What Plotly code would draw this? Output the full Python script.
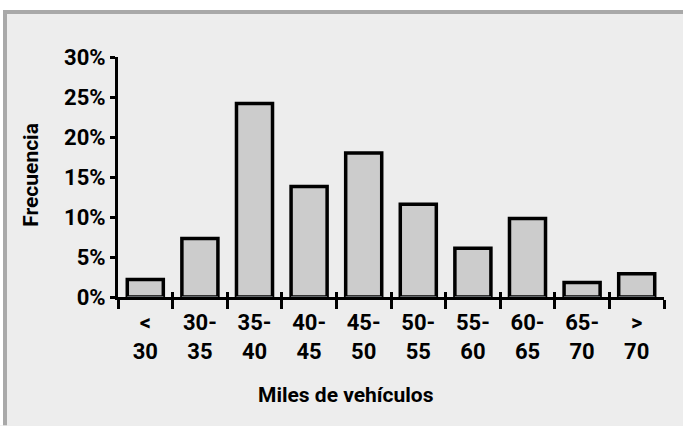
import plotly.graph_objects as go

categories = ["<<br>30", "30-<br>35", "35-<br>40", "40-<br>45", "45-<br>50",
              "50-<br>55", "55-<br>60", "60-<br>65", "65-<br>70", "><br>70"]
frecuencia = [2.2, 7.3, 24.2, 13.8, 18.0, 11.6, 6.1, 9.8, 1.8, 2.9]
y_ticks = [0, 5, 10, 15, 20, 25, 30]
y_tick_labels = ["0%", "5%", "10%", "15%", "20%", "25%", "30%"]

FONT = "Roboto, Liberation Sans, sans-serif"
W, H = 683, 426
L, R, T, B = 118, 19, 57, 128.5
pw = W - L - R
ph = H - T - B

def px_x(px):
    return (px - L) / pw

def px_y(py):
    return (H - B - py) / ph

fig = go.Figure()
fig.add_trace(go.Bar(
    x=categories, y=frecuencia, width=0.66,
    marker=dict(color="#cccccc", line=dict(color="#000000", width=3.5)),
    hoverinfo="y",
))
# invisible trace for second x axis (inside ticks)
fig.add_trace(go.Bar(x=categories, y=[0] * len(categories), xaxis="x2",
                     marker=dict(color="rgba(0,0,0,0)"), showlegend=False,
                     hoverinfo="skip"))

fig.update_layout(
    width=W, height=H, autosize=False,
    margin=dict(l=L, r=R, t=T, b=B, pad=0),
    paper_bgcolor="#ededed", plot_bgcolor="#ededed",
    showlegend=False, bargap=0.34,
    font=dict(family=FONT, size=22, color="#000000"),
    xaxis=dict(type="category", categoryorder="array", categoryarray=categories,
               showline=True, linecolor="#000000", linewidth=3,
               ticks="outside", tickson="boundaries", ticklen=9, tickwidth=3,
               tickcolor="#000000", showgrid=False, zeroline=False,
               ticklabelstandoff=4,
               tickfont=dict(family=FONT, size=22, color="#000000", weight="bold"),
               range=[-0.5, 9.5], fixedrange=True),
    xaxis2=dict(type="category", categoryorder="array", categoryarray=categories,
                overlaying="x", side="bottom", matches="x",
                ticks="inside", tickson="boundaries", ticklen=5, tickwidth=3,
                tickcolor="#000000", showticklabels=False, showgrid=False,
                showline=False, zeroline=False),
    yaxis=dict(range=[0, 30], tickvals=y_ticks, ticktext=y_tick_labels,
               showline=True, linecolor="#000000", linewidth=3,
               ticks="outside", ticklen=5, tickwidth=3, tickcolor="#000000",
               showgrid=False, zeroline=False,
               tickfont=dict(family=FONT, size=22, color="#000000", weight="bold"),
               fixedrange=True),
    annotations=[
        dict(text="Frecuencia", xref="paper", yref="paper",
             x=px_x(31), y=px_y(175), textangle=-90, showarrow=False,
             xanchor="center", yanchor="middle",
             font=dict(family=FONT, size=21, color="#000000", weight="bold")),
        dict(text="Miles de vehículos", xref="paper", yref="paper",
             x=px_x(346), y=px_y(396), showarrow=False,
             xanchor="center", yanchor="middle",
             font=dict(family=FONT, size=21, color="#000000", weight="bold")),
    ],
    shapes=[
        dict(type="rect", xref="paper", yref="paper", layer="below",
             x0=px_x(0), x1=px_x(W), y0=px_y(10), y1=px_y(0),
             fillcolor="#ffffff", line=dict(width=0)),
        dict(type="rect", xref="paper", yref="paper", layer="below",
             x0=px_x(0), x1=px_x(3), y0=px_y(H), y1=px_y(0),
             fillcolor="#ffffff", line=dict(width=0)),
        dict(type="rect", xref="paper", yref="paper", layer="below",
             x0=px_x(3), x1=px_x(W), y0=px_y(14), y1=px_y(10),
             fillcolor="#a9a9a9", line=dict(width=0)),
        dict(type="rect", xref="paper", yref="paper", layer="below",
             x0=px_x(3), x1=px_x(7), y0=px_y(H), y1=px_y(10),
             fillcolor="#a9a9a9", line=dict(width=0)),
    ],
)

fig.write_html("out.html", config={"displayModeBar": False},
               post_script="document.body.style.margin='0';")
